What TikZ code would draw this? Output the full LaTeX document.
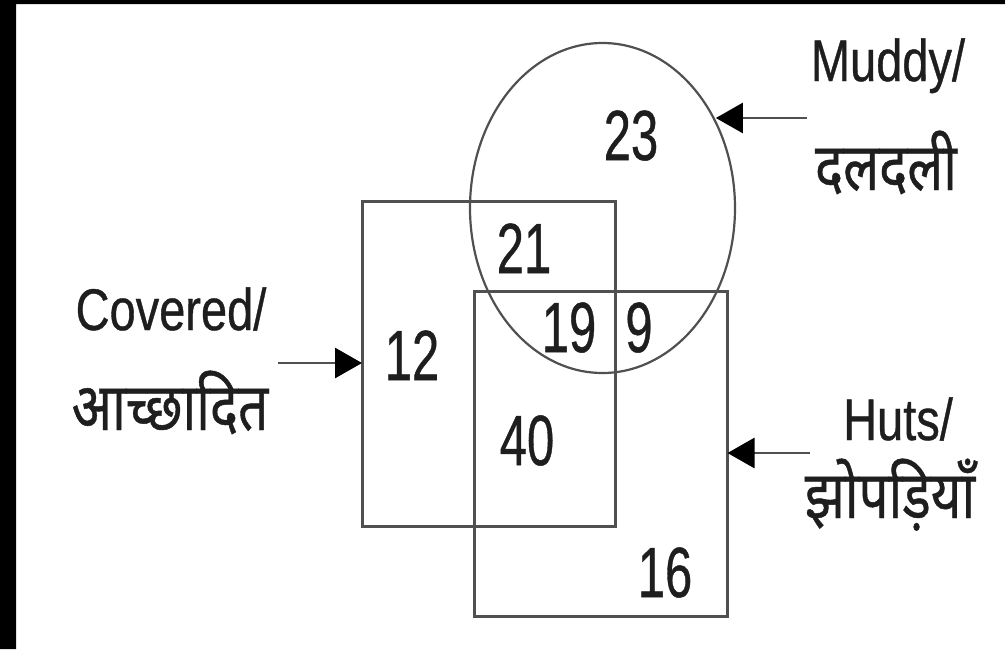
\documentclass[tikz,border=0pt]{standalone}
\usepackage{fontspec}
\setmainfont[FakeBold=0.7]{Liberation Sans}
\newfontfamily\hindi[Script=Devanagari,FakeBold=0.7]{Noto Sans}
\usetikzlibrary{arrows.meta,shapes.geometric}
\definecolor{linegray}{HTML}{505050}
\definecolor{inkgray}{HTML}{1E1E1E}
\newcommand{\tall}[2][1.25]{\scalebox{1}[#1]{#2}}
\tikzset{
	box/.style={draw=linegray, line width=3pt, minimum width=253pt, minimum height=325pt, inner sep=0pt, outer sep=0pt},
	num/.style={text=inkgray, font=\fontsize{49}{58}\selectfont, inner sep=0pt, anchor=base},
	lbl/.style={text=inkgray, font=\fontsize{47}{56}\selectfont, inner sep=0pt, anchor=base},
	hilbl/.style={lbl, font=\fontsize{53}{60}\selectfont\hindi},
	arr/.style={draw=linegray, line width=2.8pt, -{Triangle[length=27pt,width=30pt,color=black]}}
}
\begin{document}
\begin{tikzpicture}[x=1pt,y=-1pt]
	\useasboundingbox[fill=white] (0,0) rectangle (1005,649);
	\fill[black] (0,0) rectangle (16,649) (0,0) rectangle (1005,4);

	\node[box] (covered) at (488.5,363.5) {};
	\node[box] (huts) at (601,453.5) {};
	\node[draw=linegray, line width=2.2pt, ellipse, minimum width=265pt, minimum height=330pt, inner sep=0pt, outer sep=0pt] (muddy) at (602.5,208) {};

	\node[num] (n23) at (631,160) {\tall[1.45]{23}};
	\node[num] (n21) at (524,273) {\tall[1.45]{21}};
	\node[num] (n19) at (569,352) {\tall[1.45]{19}};
	\node[num] (n9) at (639,352) {\tall[1.45]{9}};
	\node[num] (n12) at (412,380) {\tall[1.45]{12}};
	\node[num] (n40) at (527,465) {\tall[1.45]{40}};
	\node[num] (n16) at (665,597) {\tall[1.45]{16}};

	\node[lbl] (muddy-en) at (888,81) {\tall{Muddy/}};
	\node[hilbl] (muddy-hi) at (886,190) {\tall{दलदली}};
	\node[lbl] (covered-en) at (171,330) {\tall{Covered/}};
	\node[hilbl] (covered-hi) at (170,430) {\tall{आच्छादित}};
	\node[lbl] (huts-en) at (898,440) {\tall{Huts/}};
	\node[hilbl] (huts-hi) at (890,518) {\tall{झोपड़ियाँ}};

	\coordinate (muddy-tail) at (807,118);
	\coordinate (covered-tail) at (278,363);
	\coordinate (huts-tail) at (810,453);
	\draw[arr] (muddy-tail) -- (muddy-tail -| muddy.37);
	\draw[arr] (covered-tail) -- (covered-tail -| covered.west);
	\draw[arr] (huts-tail) -- (huts-tail -| huts.east);
\end{tikzpicture}
\end{document}
